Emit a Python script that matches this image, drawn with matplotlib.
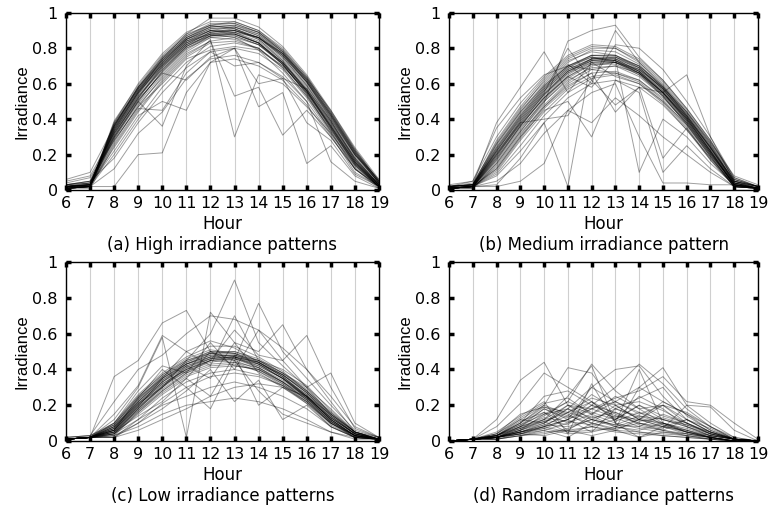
import matplotlib
matplotlib.use("Agg")
import matplotlib.pyplot as plt
import numpy as np

plt.rcParams['font.family'] = ['DejaVu Sans']

# Horas do dia
hours = list(range(6, 20))

# (a) padrões de irradiância alta
high = [
    [0.02, 0.03, 0.37, 0.57, 0.73, 0.85, 0.91, 0.92, 0.87, 0.76, 0.60, 0.40, 0.19, 0.03],
    [0.01, 0.02, 0.33, 0.54, 0.70, 0.83, 0.89, 0.90, 0.85, 0.74, 0.58, 0.38, 0.17, 0.02],
    [0.03, 0.05, 0.30, 0.50, 0.67, 0.80, 0.87, 0.88, 0.83, 0.72, 0.56, 0.36, 0.16, 0.02],
    [0.04, 0.07, 0.28, 0.47, 0.64, 0.78, 0.86, 0.87, 0.82, 0.71, 0.55, 0.35, 0.15, 0.03],
    [0.01, 0.02, 0.38, 0.60, 0.77, 0.89, 0.95, 0.95, 0.90, 0.80, 0.64, 0.44, 0.22, 0.05],
    [0.02, 0.03, 0.36, 0.58, 0.75, 0.87, 0.93, 0.94, 0.89, 0.78, 0.62, 0.42, 0.21, 0.04],
    [0.01, 0.01, 0.25, 0.45, 0.62, 0.76, 0.84, 0.86, 0.82, 0.72, 0.57, 0.38, 0.18, 0.03],
    [0.02, 0.02, 0.20, 0.40, 0.58, 0.72, 0.81, 0.83, 0.80, 0.70, 0.55, 0.36, 0.16, 0.02],
    [0.05, 0.08, 0.32, 0.52, 0.69, 0.82, 0.89, 0.91, 0.86, 0.76, 0.61, 0.42, 0.20, 0.06],
    [0.01, 0.02, 0.02, 0.20, 0.21, 0.55, 0.72, 0.74, 0.70, 0.62, 0.48, 0.30, 0.12, 0.02],
    [0.02, 0.03, 0.30, 0.50, 0.36, 0.70, 0.85, 0.30, 0.65, 0.60, 0.47, 0.32, 0.14, 0.02],
    [0.01, 0.02, 0.27, 0.48, 0.63, 0.77, 0.84, 0.53, 0.58, 0.31, 0.45, 0.30, 0.12, 0.02],
    [0.02, 0.03, 0.22, 0.42, 0.50, 0.45, 0.72, 0.80, 0.47, 0.55, 0.15, 0.25, 0.08, 0.01],
    [0.03, 0.04, 0.34, 0.55, 0.71, 0.84, 0.90, 0.88, 0.83, 0.71, 0.54, 0.33, 0.12, 0.01],
    [0.01, 0.02, 0.37, 0.57, 0.72, 0.84, 0.88, 0.86, 0.79, 0.66, 0.50, 0.16, 0.05, 0.01],
    [0.02, 0.03, 0.34, 0.55, 0.74, 0.88, 0.97, 0.97, 0.92, 0.81, 0.65, 0.45, 0.24, 0.06],
    [0.01, 0.02, 0.29, 0.49, 0.65, 0.79, 0.87, 0.89, 0.86, 0.77, 0.63, 0.45, 0.23, 0.05],
    [0.02, 0.03, 0.24, 0.44, 0.61, 0.75, 0.83, 0.84, 0.80, 0.69, 0.53, 0.33, 0.13, 0.02],
    [0.03, 0.05, 0.18, 0.38, 0.55, 0.69, 0.78, 0.80, 0.77, 0.68, 0.52, 0.32, 0.12, 0.02],
    [0.02, 0.02, 0.12, 0.32, 0.44, 0.63, 0.74, 0.76, 0.72, 0.64, 0.50, 0.31, 0.10, 0.02],
    [0.01, 0.02, 0.35, 0.56, 0.72, 0.85, 0.91, 0.91, 0.86, 0.75, 0.59, 0.39, 0.18, 0.03],
    [0.02, 0.04, 0.31, 0.52, 0.70, 0.83, 0.90, 0.92, 0.88, 0.78, 0.63, 0.43, 0.22, 0.04],
    [0.01, 0.03, 0.33, 0.53, 0.68, 0.81, 0.88, 0.89, 0.84, 0.73, 0.57, 0.37, 0.16, 0.03],
    [0.02, 0.02, 0.26, 0.46, 0.45, 0.66, 0.78, 0.70, 0.72, 0.63, 0.38, 0.28, 0.09, 0.02],
    [0.06, 0.10, 0.36, 0.58, 0.74, 0.86, 0.92, 0.93, 0.88, 0.77, 0.61, 0.40, 0.20, 0.04],
    [0.01, 0.02, 0.39, 0.59, 0.76, 0.88, 0.93, 0.91, 0.85, 0.73, 0.56, 0.35, 0.14, 0.02],
    [0.02, 0.03, 0.28, 0.47, 0.60, 0.74, 0.79, 0.81, 0.79, 0.70, 0.56, 0.37, 0.17, 0.03],
    [0.01, 0.02, 0.32, 0.51, 0.66, 0.80, 0.86, 0.85, 0.80, 0.69, 0.53, 0.34, 0.15, 0.02],
    [0.03, 0.04, 0.35, 0.56, 0.73, 0.86, 0.93, 0.95, 0.90, 0.79, 0.63, 0.43, 0.21, 0.04],
    [0.02, 0.03, 0.30, 0.51, 0.66, 0.62, 0.75, 0.80, 0.60, 0.63, 0.57, 0.39, 0.17, 0.03],
    [0.02, 0.03, 0.36, 0.57, 0.74, 0.86, 0.92, 0.92, 0.87, 0.77, 0.61, 0.41, 0.20, 0.04],
    [0.01, 0.02, 0.34, 0.55, 0.71, 0.84, 0.90, 0.90, 0.86, 0.75, 0.59, 0.39, 0.18, 0.03],
    [0.02, 0.03, 0.32, 0.53, 0.69, 0.82, 0.89, 0.90, 0.86, 0.76, 0.61, 0.41, 0.20, 0.04],
    [0.01, 0.02, 0.35, 0.55, 0.70, 0.82, 0.87, 0.87, 0.82, 0.71, 0.55, 0.35, 0.15, 0.02],
    [0.03, 0.05, 0.37, 0.58, 0.75, 0.87, 0.94, 0.94, 0.89, 0.78, 0.62, 0.42, 0.21, 0.05],
    [0.02, 0.03, 0.29, 0.50, 0.67, 0.81, 0.88, 0.90, 0.86, 0.77, 0.62, 0.43, 0.22, 0.05],
    [0.01, 0.02, 0.38, 0.58, 0.73, 0.85, 0.90, 0.89, 0.83, 0.71, 0.54, 0.34, 0.14, 0.02],
    [0.02, 0.04, 0.33, 0.54, 0.72, 0.85, 0.92, 0.93, 0.89, 0.79, 0.64, 0.44, 0.23, 0.05],
    [0.01, 0.02, 0.31, 0.52, 0.68, 0.81, 0.87, 0.88, 0.83, 0.72, 0.56, 0.36, 0.16, 0.03],
    [0.02, 0.03, 0.36, 0.56, 0.71, 0.83, 0.88, 0.88, 0.83, 0.72, 0.56, 0.36, 0.15, 0.02],
]

# (b) padrões de irradiância média
medium = [
    [0.01, 0.02, 0.22, 0.40, 0.56, 0.68, 0.74, 0.74, 0.67, 0.55, 0.39, 0.21, 0.03, 0.01],
    [0.02, 0.03, 0.25, 0.44, 0.60, 0.72, 0.79, 0.78, 0.71, 0.58, 0.42, 0.24, 0.05, 0.02],
    [0.01, 0.02, 0.17, 0.35, 0.50, 0.62, 0.69, 0.70, 0.64, 0.53, 0.38, 0.20, 0.03, 0.01],
    [0.01, 0.01, 0.14, 0.32, 0.47, 0.59, 0.66, 0.67, 0.62, 0.51, 0.36, 0.19, 0.02, 0.01],
    [0.03, 0.05, 0.30, 0.49, 0.64, 0.76, 0.82, 0.81, 0.74, 0.62, 0.46, 0.28, 0.07, 0.02],
    [0.01, 0.02, 0.10, 0.28, 0.44, 0.57, 0.64, 0.66, 0.61, 0.50, 0.35, 0.17, 0.02, 0.01],
    [0.01, 0.02, 0.03, 0.18, 0.38, 0.02, 0.75, 0.72, 0.66, 0.55, 0.40, 0.22, 0.03, 0.01],
    [0.02, 0.03, 0.38, 0.58, 0.78, 0.55, 0.72, 0.64, 0.60, 0.50, 0.37, 0.20, 0.04, 0.02],
    [0.01, 0.02, 0.20, 0.37, 0.52, 0.64, 0.58, 0.74, 0.10, 0.40, 0.30, 0.15, 0.03, 0.01],
    [0.01, 0.02, 0.12, 0.30, 0.45, 0.50, 0.30, 0.62, 0.55, 0.10, 0.25, 0.12, 0.02, 0.01],
    [0.02, 0.03, 0.21, 0.38, 0.40, 0.42, 0.62, 0.48, 0.58, 0.55, 0.65, 0.30, 0.05, 0.02],
    [0.01, 0.02, 0.05, 0.15, 0.32, 0.45, 0.55, 0.60, 0.30, 0.04, 0.04, 0.03, 0.03, 0.01],
    [0.02, 0.04, 0.26, 0.45, 0.62, 0.74, 0.80, 0.80, 0.73, 0.61, 0.45, 0.27, 0.08, 0.03],
    [0.01, 0.02, 0.18, 0.36, 0.53, 0.66, 0.74, 0.75, 0.70, 0.58, 0.43, 0.25, 0.05, 0.01],
    [0.01, 0.02, 0.16, 0.34, 0.51, 0.64, 0.72, 0.73, 0.68, 0.57, 0.42, 0.24, 0.04, 0.01],
    [0.02, 0.03, 0.23, 0.42, 0.58, 0.70, 0.76, 0.75, 0.68, 0.56, 0.40, 0.22, 0.03, 0.01],
    [0.01, 0.02, 0.08, 0.22, 0.38, 0.52, 0.60, 0.62, 0.58, 0.48, 0.34, 0.18, 0.02, 0.01],
    [0.01, 0.01, 0.15, 0.33, 0.49, 0.84, 0.90, 0.93, 0.75, 0.62, 0.46, 0.28, 0.06, 0.02],
    [0.02, 0.03, 0.24, 0.43, 0.59, 0.71, 0.60, 0.90, 0.72, 0.60, 0.44, 0.26, 0.04, 0.01],
    [0.01, 0.02, 0.02, 0.05, 0.15, 0.45, 0.38, 0.52, 0.42, 0.30, 0.20, 0.10, 0.02, 0.01],
    [0.01, 0.02, 0.19, 0.37, 0.54, 0.67, 0.73, 0.72, 0.65, 0.53, 0.37, 0.19, 0.02, 0.01],
    [0.02, 0.03, 0.27, 0.46, 0.61, 0.73, 0.78, 0.76, 0.69, 0.57, 0.41, 0.23, 0.04, 0.01],
    [0.01, 0.02, 0.13, 0.31, 0.48, 0.61, 0.70, 0.72, 0.68, 0.58, 0.44, 0.27, 0.06, 0.02],
    [0.01, 0.02, 0.20, 0.39, 0.55, 0.80, 0.62, 0.82, 0.80, 0.68, 0.50, 0.30, 0.07, 0.02],
    [0.01, 0.02, 0.11, 0.29, 0.46, 0.58, 0.66, 0.44, 0.58, 0.18, 0.35, 0.18, 0.03, 0.01],
    [0.02, 0.03, 0.22, 0.41, 0.57, 0.69, 0.76, 0.76, 0.70, 0.59, 0.44, 0.26, 0.06, 0.02],
    [0.01, 0.02, 0.09, 0.25, 0.42, 0.55, 0.63, 0.65, 0.60, 0.49, 0.34, 0.17, 0.02, 0.01],
    [0.01, 0.03, 0.28, 0.47, 0.63, 0.75, 0.81, 0.80, 0.72, 0.59, 0.42, 0.24, 0.04, 0.01],
    [0.02, 0.05, 0.35, 0.52, 0.65, 0.70, 0.68, 0.66, 0.62, 0.52, 0.38, 0.21, 0.03, 0.01],
    [0.01, 0.02, 0.17, 0.36, 0.52, 0.65, 0.73, 0.74, 0.69, 0.57, 0.41, 0.22, 0.03, 0.01],
    [0.01, 0.02, 0.21, 0.39, 0.55, 0.67, 0.73, 0.73, 0.67, 0.55, 0.40, 0.22, 0.03, 0.01],
    [0.01, 0.02, 0.19, 0.38, 0.54, 0.67, 0.74, 0.73, 0.66, 0.54, 0.38, 0.20, 0.02, 0.01],
    [0.02, 0.03, 0.24, 0.42, 0.58, 0.70, 0.76, 0.76, 0.70, 0.58, 0.43, 0.25, 0.05, 0.02],
    [0.01, 0.02, 0.15, 0.33, 0.50, 0.63, 0.71, 0.72, 0.67, 0.56, 0.41, 0.23, 0.04, 0.01],
    [0.01, 0.02, 0.23, 0.41, 0.57, 0.69, 0.75, 0.74, 0.67, 0.55, 0.39, 0.21, 0.03, 0.01],
    [0.02, 0.03, 0.20, 0.38, 0.54, 0.66, 0.72, 0.72, 0.66, 0.55, 0.40, 0.22, 0.04, 0.01],
    [0.01, 0.02, 0.26, 0.44, 0.59, 0.70, 0.75, 0.73, 0.66, 0.53, 0.37, 0.19, 0.02, 0.01],
    [0.01, 0.02, 0.12, 0.30, 0.47, 0.60, 0.68, 0.70, 0.66, 0.55, 0.41, 0.24, 0.05, 0.02],
    [0.01, 0.02, 0.18, 0.36, 0.52, 0.64, 0.71, 0.71, 0.65, 0.54, 0.39, 0.21, 0.03, 0.01],
    [0.02, 0.03, 0.22, 0.40, 0.56, 0.68, 0.74, 0.75, 0.69, 0.57, 0.42, 0.24, 0.05, 0.01],
]

# (c) padrões de irradiância baixa
low = [
    [0.01, 0.02, 0.06, 0.20, 0.33, 0.41, 0.46, 0.47, 0.42, 0.35, 0.25, 0.12, 0.03, 0.01],
    [0.01, 0.02, 0.08, 0.23, 0.36, 0.44, 0.50, 0.50, 0.45, 0.37, 0.27, 0.14, 0.04, 0.01],
    [0.01, 0.02, 0.03, 0.16, 0.28, 0.37, 0.42, 0.43, 0.39, 0.32, 0.23, 0.10, 0.02, 0.01],
    [0.02, 0.03, 0.10, 0.26, 0.38, 0.47, 0.53, 0.53, 0.47, 0.39, 0.28, 0.15, 0.05, 0.02],
    [0.01, 0.02, 0.02, 0.12, 0.24, 0.33, 0.38, 0.40, 0.37, 0.31, 0.22, 0.09, 0.02, 0.01],
    [0.01, 0.02, 0.36, 0.45, 0.66, 0.73, 0.50, 0.42, 0.40, 0.33, 0.25, 0.13, 0.04, 0.01],
    [0.01, 0.02, 0.12, 0.30, 0.58, 0.02, 0.72, 0.55, 0.38, 0.30, 0.21, 0.10, 0.03, 0.01],
    [0.01, 0.02, 0.05, 0.18, 0.30, 0.45, 0.60, 0.90, 0.55, 0.42, 0.30, 0.15, 0.04, 0.01],
    [0.01, 0.02, 0.04, 0.15, 0.26, 0.35, 0.50, 0.45, 0.77, 0.50, 0.35, 0.20, 0.06, 0.02],
    [0.01, 0.02, 0.06, 0.19, 0.30, 0.42, 0.35, 0.55, 0.50, 0.65, 0.40, 0.22, 0.05, 0.01],
    [0.01, 0.02, 0.05, 0.17, 0.28, 0.38, 0.45, 0.62, 0.48, 0.45, 0.59, 0.30, 0.07, 0.02],
    [0.02, 0.03, 0.22, 0.40, 0.48, 0.60, 0.70, 0.68, 0.62, 0.52, 0.40, 0.25, 0.08, 0.02],
    [0.01, 0.02, 0.04, 0.12, 0.20, 0.25, 0.30, 0.33, 0.30, 0.25, 0.18, 0.08, 0.02, 0.01],
    [0.01, 0.02, 0.03, 0.08, 0.15, 0.20, 0.22, 0.24, 0.22, 0.18, 0.12, 0.05, 0.01, 0.01],
    [0.01, 0.02, 0.07, 0.22, 0.34, 0.42, 0.46, 0.45, 0.40, 0.32, 0.22, 0.10, 0.03, 0.01],
    [0.01, 0.02, 0.09, 0.25, 0.37, 0.46, 0.51, 0.49, 0.43, 0.35, 0.24, 0.11, 0.03, 0.01],
    [0.01, 0.02, 0.04, 0.18, 0.31, 0.39, 0.44, 0.46, 0.43, 0.37, 0.28, 0.16, 0.05, 0.01],
    [0.01, 0.02, 0.02, 0.10, 0.21, 0.30, 0.36, 0.38, 0.36, 0.31, 0.24, 0.13, 0.04, 0.01],
    [0.01, 0.02, 0.06, 0.24, 0.40, 0.30, 0.18, 0.45, 0.28, 0.15, 0.10, 0.05, 0.02, 0.01],
    [0.01, 0.02, 0.05, 0.14, 0.22, 0.35, 0.25, 0.48, 0.20, 0.30, 0.22, 0.10, 0.03, 0.01],
    [0.01, 0.02, 0.10, 0.28, 0.42, 0.38, 0.55, 0.40, 0.62, 0.45, 0.30, 0.18, 0.05, 0.01],
    [0.01, 0.02, 0.03, 0.10, 0.18, 0.28, 0.40, 0.22, 0.34, 0.12, 0.20, 0.08, 0.02, 0.01],
    [0.01, 0.02, 0.08, 0.21, 0.33, 0.43, 0.49, 0.50, 0.46, 0.38, 0.29, 0.16, 0.05, 0.01],
    [0.01, 0.02, 0.07, 0.20, 0.32, 0.40, 0.45, 0.44, 0.39, 0.31, 0.21, 0.08, 0.02, 0.01],
    [0.01, 0.02, 0.05, 0.19, 0.35, 0.50, 0.56, 0.52, 0.44, 0.36, 0.25, 0.12, 0.03, 0.01],
    [0.01, 0.02, 0.02, 0.06, 0.12, 0.18, 0.25, 0.30, 0.32, 0.30, 0.25, 0.15, 0.05, 0.01],
    [0.02, 0.03, 0.09, 0.24, 0.35, 0.43, 0.48, 0.48, 0.44, 0.36, 0.26, 0.13, 0.04, 0.01],
    [0.01, 0.02, 0.04, 0.16, 0.27, 0.36, 0.41, 0.42, 0.40, 0.33, 0.24, 0.11, 0.02, 0.01],
    [0.01, 0.02, 0.15, 0.31, 0.59, 0.50, 0.42, 0.70, 0.45, 0.38, 0.30, 0.38, 0.10, 0.02],
    [0.01, 0.02, 0.06, 0.21, 0.30, 0.41, 0.47, 0.48, 0.45, 0.40, 0.31, 0.17, 0.05, 0.01],
    [0.01, 0.02, 0.07, 0.21, 0.33, 0.42, 0.47, 0.47, 0.43, 0.35, 0.25, 0.12, 0.03, 0.01],
    [0.01, 0.02, 0.06, 0.20, 0.32, 0.40, 0.45, 0.46, 0.42, 0.35, 0.26, 0.13, 0.04, 0.01],
    [0.01, 0.02, 0.09, 0.24, 0.36, 0.45, 0.50, 0.49, 0.44, 0.36, 0.25, 0.12, 0.03, 0.01],
    [0.01, 0.02, 0.05, 0.18, 0.30, 0.39, 0.45, 0.47, 0.44, 0.37, 0.27, 0.14, 0.04, 0.01],
    [0.01, 0.02, 0.08, 0.22, 0.34, 0.43, 0.48, 0.48, 0.43, 0.35, 0.24, 0.11, 0.03, 0.01],
    [0.01, 0.02, 0.07, 0.22, 0.35, 0.44, 0.49, 0.49, 0.45, 0.38, 0.28, 0.15, 0.05, 0.01],
    [0.01, 0.02, 0.04, 0.17, 0.29, 0.38, 0.43, 0.44, 0.41, 0.34, 0.25, 0.12, 0.03, 0.01],
    [0.01, 0.02, 0.10, 0.25, 0.37, 0.45, 0.49, 0.47, 0.41, 0.33, 0.23, 0.10, 0.02, 0.01],
    [0.01, 0.02, 0.06, 0.19, 0.31, 0.40, 0.46, 0.47, 0.44, 0.37, 0.27, 0.14, 0.04, 0.01],
    [0.01, 0.02, 0.08, 0.23, 0.35, 0.43, 0.47, 0.46, 0.41, 0.33, 0.23, 0.11, 0.03, 0.01],
]

# (d) padrões aleatórios
random_pat = [
    [0.00, 0.01, 0.12, 0.34, 0.44, 0.20, 0.12, 0.08, 0.05, 0.03, 0.02, 0.01, 0.00, 0.00],
    [0.00, 0.01, 0.08, 0.21, 0.38, 0.30, 0.22, 0.15, 0.10, 0.06, 0.03, 0.01, 0.00, 0.00],
    [0.00, 0.01, 0.03, 0.10, 0.20, 0.41, 0.38, 0.20, 0.12, 0.08, 0.04, 0.02, 0.00, 0.00],
    [0.00, 0.01, 0.02, 0.06, 0.15, 0.22, 0.43, 0.28, 0.18, 0.10, 0.05, 0.02, 0.00, 0.00],
    [0.00, 0.01, 0.02, 0.05, 0.10, 0.18, 0.30, 0.40, 0.42, 0.25, 0.12, 0.05, 0.01, 0.00],
    [0.00, 0.01, 0.02, 0.04, 0.08, 0.12, 0.20, 0.30, 0.43, 0.32, 0.18, 0.08, 0.01, 0.00],
    [0.00, 0.01, 0.01, 0.03, 0.06, 0.10, 0.15, 0.22, 0.30, 0.41, 0.20, 0.10, 0.02, 0.00],
    [0.00, 0.01, 0.02, 0.05, 0.08, 0.12, 0.18, 0.24, 0.28, 0.36, 0.22, 0.20, 0.10, 0.01],
    [0.00, 0.01, 0.05, 0.14, 0.22, 0.04, 0.32, 0.10, 0.40, 0.10, 0.05, 0.02, 0.00, 0.00],
    [0.00, 0.01, 0.04, 0.12, 0.20, 0.15, 0.08, 0.05, 0.04, 0.03, 0.02, 0.01, 0.00, 0.00],
    [0.00, 0.01, 0.02, 0.08, 0.12, 0.25, 0.42, 0.10, 0.02, 0.08, 0.12, 0.05, 0.01, 0.00],
    [0.00, 0.01, 0.03, 0.09, 0.18, 0.12, 0.30, 0.22, 0.15, 0.20, 0.16, 0.08, 0.02, 0.00],
    [0.00, 0.01, 0.02, 0.07, 0.11, 0.05, 0.08, 0.12, 0.20, 0.12, 0.08, 0.04, 0.01, 0.00],
    [0.00, 0.01, 0.02, 0.05, 0.08, 0.05, 0.06, 0.07, 0.10, 0.08, 0.05, 0.03, 0.01, 0.00],
    [0.00, 0.01, 0.01, 0.03, 0.05, 0.06, 0.08, 0.06, 0.05, 0.04, 0.03, 0.02, 0.00, 0.00],
    [0.00, 0.01, 0.03, 0.10, 0.25, 0.28, 0.20, 0.14, 0.12, 0.10, 0.06, 0.02, 0.00, 0.00],
    [0.00, 0.01, 0.04, 0.15, 0.19, 0.14, 0.26, 0.18, 0.13, 0.09, 0.05, 0.02, 0.00, 0.00],
    [0.00, 0.01, 0.02, 0.06, 0.10, 0.20, 0.15, 0.25, 0.18, 0.20, 0.12, 0.05, 0.01, 0.00],
    [0.00, 0.01, 0.02, 0.04, 0.06, 0.02, 0.10, 0.07, 0.30, 0.22, 0.15, 0.08, 0.01, 0.00],
    [0.00, 0.01, 0.03, 0.08, 0.13, 0.11, 0.09, 0.14, 0.10, 0.07, 0.20, 0.19, 0.06, 0.00],
    [0.00, 0.01, 0.01, 0.04, 0.07, 0.04, 0.05, 0.08, 0.06, 0.10, 0.07, 0.03, 0.01, 0.00],
    [0.00, 0.01, 0.02, 0.06, 0.11, 0.16, 0.12, 0.09, 0.14, 0.12, 0.09, 0.04, 0.01, 0.00],
    [0.00, 0.01, 0.03, 0.11, 0.16, 0.10, 0.18, 0.13, 0.08, 0.15, 0.10, 0.04, 0.01, 0.00],
    [0.00, 0.01, 0.02, 0.05, 0.07, 0.12, 0.05, 0.18, 0.24, 0.30, 0.14, 0.06, 0.01, 0.00],
    [0.00, 0.01, 0.02, 0.04, 0.03, 0.06, 0.03, 0.06, 0.02, 0.05, 0.04, 0.02, 0.00, 0.00],
    [0.00, 0.01, 0.03, 0.08, 0.18, 0.13, 0.22, 0.11, 0.16, 0.09, 0.05, 0.02, 0.00, 0.00],
    [0.00, 0.01, 0.02, 0.05, 0.09, 0.08, 0.12, 0.09, 0.08, 0.06, 0.12, 0.07, 0.01, 0.00],
    [0.00, 0.01, 0.03, 0.12, 0.10, 0.18, 0.10, 0.20, 0.12, 0.08, 0.06, 0.03, 0.01, 0.00],
    [0.00, 0.01, 0.02, 0.07, 0.14, 0.22, 0.16, 0.12, 0.20, 0.14, 0.10, 0.05, 0.01, 0.00],
    [0.00, 0.01, 0.03, 0.09, 0.15, 0.18, 0.13, 0.16, 0.11, 0.13, 0.09, 0.05, 0.01, 0.00],
    [0.00, 0.01, 0.03, 0.10, 0.19, 0.16, 0.24, 0.20, 0.22, 0.17, 0.10, 0.04, 0.01, 0.00],
    [0.00, 0.01, 0.02, 0.06, 0.12, 0.20, 0.18, 0.22, 0.16, 0.12, 0.08, 0.03, 0.01, 0.00],
    [0.00, 0.01, 0.02, 0.08, 0.16, 0.06, 0.14, 0.08, 0.12, 0.20, 0.10, 0.04, 0.01, 0.00],
    [0.00, 0.01, 0.04, 0.13, 0.21, 0.24, 0.15, 0.10, 0.07, 0.05, 0.03, 0.01, 0.00, 0.00],
    [0.00, 0.01, 0.01, 0.03, 0.04, 0.07, 0.12, 0.18, 0.14, 0.10, 0.06, 0.02, 0.00, 0.00],
    [0.00, 0.01, 0.02, 0.05, 0.09, 0.14, 0.10, 0.06, 0.12, 0.22, 0.15, 0.06, 0.01, 0.00],
    [0.00, 0.01, 0.03, 0.07, 0.12, 0.09, 0.20, 0.16, 0.09, 0.06, 0.04, 0.02, 0.00, 0.00],
    [0.00, 0.01, 0.02, 0.04, 0.08, 0.16, 0.22, 0.12, 0.25, 0.18, 0.08, 0.03, 0.01, 0.00],
]

panels = [
    (high, '(a) High irradiance patterns'),
    (medium, '(b) Medium irradiance pattern'),
    (low, '(c) Low irradiance patterns'),
    (random_pat, '(d) Random irradiance patterns'),
]

yticks = [0, 0.2, 0.4, 0.6, 0.8, 1]
ytick_labels = ['0', '0.2', '0.4', '0.6', '0.8', '1']

fig = plt.figure(figsize=(7.69, 5.11), dpi=100)
# posições [left, bottom, width, height] em fração da figura
boxes = [
    [0.0858, 0.628, 0.407, 0.347],
    [0.5839, 0.628, 0.4018, 0.347],
    [0.0858, 0.137, 0.407, 0.350],
    [0.5839, 0.137, 0.4018, 0.350],
]

for (data, caption), box in zip(panels, boxes):
    ax = fig.add_axes(box)
    for h in hours:
        ax.axvline(h, color='#cfcfcf', lw=0.8, zorder=0)
    for row in data:
        ax.plot(hours, row, color='k', lw=0.7, alpha=0.38)
    ax.set_xlim(6, 19)
    ax.set_ylim(0, 1)
    ax.set_xticks(hours)
    ax.set_xticklabels([str(h) for h in hours], fontsize=11.5)
    ax.set_yticks(yticks)
    ax.set_yticklabels(ytick_labels, fontsize=11.5)
    ax.tick_params(direction='in', length=3.5, width=2.5, top=True, right=True)
    ax.tick_params(axis='x', pad=4)
    ax.tick_params(axis='y', pad=6)
    for s in ax.spines.values():
        s.set_linewidth(1.0)
    ax.set_xlabel('Hour', fontsize=12, labelpad=3)
    ax.set_ylabel('Irradiance', fontsize=12, labelpad=2, family='Liberation Sans')
    ax.text(0.5, -0.31, caption, transform=ax.transAxes, ha='center', va='center', fontsize=12)

plt.savefig('out.png', dpi=100)
